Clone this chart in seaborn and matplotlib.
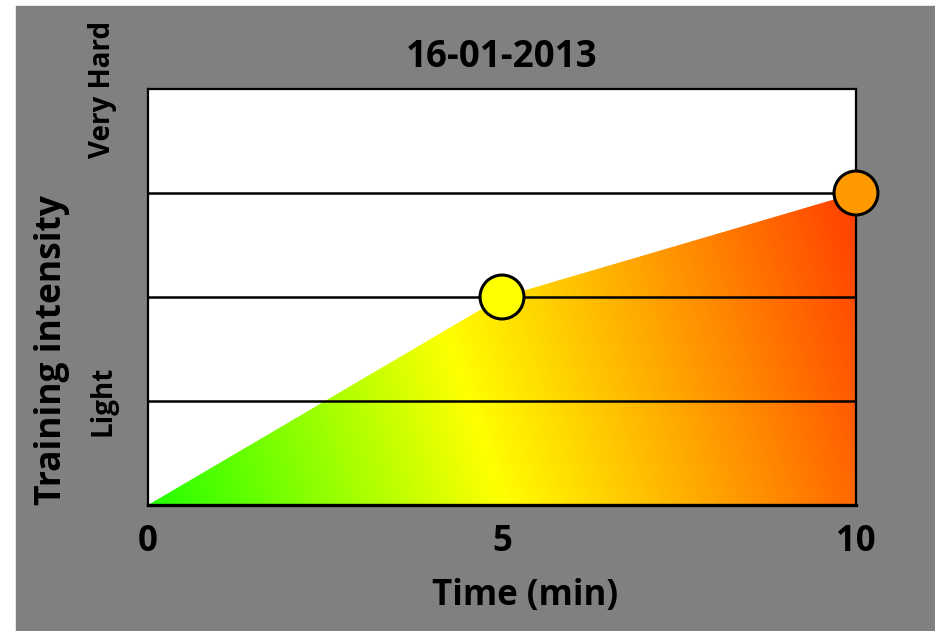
import numpy as np
import matplotlib.pyplot as plt
import seaborn as sns
from matplotlib.colors import LinearSegmentedColormap
from matplotlib.patches import Rectangle

# data
time_min = [0, 5, 10]
intensity = [0, 2, 3]
marker_colors = ["#ffff00", "#ff9900"]
x_ticks = [0, 5, 10]
y_ticks = [1, 4]
y_tick_labels = ["Light", "Very Hard"]
grid_levels = [1, 2, 3]
title = "16-01-2013"

sns.set_style("white")
plt.rcParams["font.family"] = ["Open Sans", "DejaVu Sans"]
plt.rcParams["font.weight"] = "bold"

fig = plt.figure(figsize=(9.35, 6.31), dpi=100)
fig.patch.set_facecolor("white")
fig.patches.append(Rectangle((16 / 935, 0), 1, (631 - 6) / 631,
                             transform=fig.transFigure, color="#808080", zorder=-10))

ax = fig.add_axes([148 / 935, 126 / 631, 708 / 935, 416 / 631])
ax.set_facecolor("white")
ax.set_xlim(0, 10)
ax.set_ylim(0, 4)

# diagonal gradient fill under the line, clipped to the area polygon
cmap = LinearSegmentedColormap.from_list(
    "heat", [(0, "#22ff00"), (0.5 / 1.2, "#ffff00"), (1, "#ff2d00")])
xx, yy = np.meshgrid(np.linspace(0, 10, 500), np.linspace(0, 4, 250))
t = (xx / 10 + 0.19 * yy / 4) / 1.2
img = ax.imshow(cmap(t), extent=[0, 10, 0, 4], origin="lower", aspect="auto", zorder=0.5)
area = ax.fill_between(time_min, intensity, 0, color="none", lw=0)
img.set_clip_path(area.get_paths()[0], transform=ax.transData)

# horizontal grid lines
for level in grid_levels:
    ax.axhline(level, color="black", lw=1.8, zorder=2)

# markers
sns.scatterplot(x=time_min[1:], y=intensity[1:], hue=[str(v) for v in time_min[1:]],
                palette=marker_colors, s=1000, edgecolor="black", linewidth=2.2,
                legend=False, clip_on=False, zorder=5, ax=ax)

for side, spine in ax.spines.items():
    spine.set_visible(True)
    spine.set_color("black")
    spine.set_linewidth(2.4 if side == "bottom" else 1.6)

ax.set_xticks(x_ticks)
ax.set_xticklabels([str(v) for v in x_ticks])
ax.tick_params(axis="x", direction="in", length=4, width=2, color="black",
               labelsize=25, pad=14, labelcolor="black")
ax.set_yticks(y_ticks)
ax.set_yticklabels(y_tick_labels, rotation=90, va="center")
ax.tick_params(axis="y", which="both", length=0, labelsize=20, pad=22, labelcolor="black")

ax.set_title(title, fontsize=26.5, fontweight="bold", pad=16, color="black")
ax.set_xlabel("Time (min)", fontsize=25, fontweight="bold", color="black")
ax.xaxis.set_label_coords(0.532, -0.175)
ax.set_ylabel("Training intensity", fontsize=25.5, fontweight="bold", color="black")
ax.yaxis.set_label_coords(-0.11, 0.373)

fig.savefig("out.png", dpi=100)
